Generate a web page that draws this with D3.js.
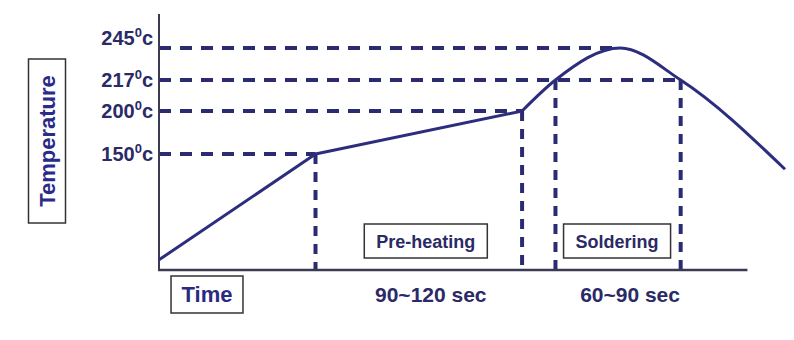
<!DOCTYPE html>
<html>
<head>
<meta charset="utf-8">
<script src="https://cdn.jsdelivr.net/npm/d3@7"></script>
<style>
  html, body { margin: 0; padding: 0; background: #fff; }
  svg { display: block; }
  text { font-family: "Liberation Sans", Arial, sans-serif; font-weight: bold; }
</style>
</head>
<body>
<svg id="chart" width="794" height="340"></svg>
<script>
// ---- data ----
const profileTime = [0, 75, 174, 190, 221, 250, 300];      // seconds (schematic)
const profileTemp = [25, 150, 200, 217, 245, 217, 132];     // °C
const tickTemps   = [150, 200, 217, 245];
const tickGuideTime = [75, 174, 250, 221];                 // where each horizontal guide ends
const dropTimes   = [75, 174, 190, 250];                   // vertical guide lines
const dropTemps   = [150, 200, 217, 217];
const phaseNames  = ["Pre-heating", "Soldering"];
const phaseSpans  = [[75, 174], [190, 250]];
const durationLabels = ["90~120 sec", "60~90 sec"];
const yTitle = "Temperature";
const xTitle = "Time";

// ---- layout ----
const svg = d3.select("#chart");
const navy = "#2b2b72", lineCol = "#2d2d7e", textCol = "#2a2a66", axisCol = "#3a3a52";

const x = d3.scaleLinear().domain([0, 300]).range([159, 785]);
const xAxisEnd = 282;
// schematic (non-uniform) temperature axis
const y = d3.scaleLinear().domain([13, 150, 200, 217, 245, 275]).range([270, 154, 111, 80, 48, 14]);
const yBase = 13, yTop = 275;

// guides
const hGuides = tickTemps.map((t, i) => ({t, end: tickGuideTime[i]}));
svg.append("g").selectAll("line").data(hGuides).join("line")
  .attr("x1", x(0)).attr("x2", d => x(d.end))
  .attr("y1", d => y(d.t)).attr("y2", d => y(d.t))
  .attr("stroke", navy).attr("stroke-width", 4).attr("stroke-dasharray", "12,9");

svg.append("g").selectAll("line").data(dropTimes.map((t, i) => ({t, temp: dropTemps[i]}))).join("line")
  .attr("x1", d => x(d.t)).attr("x2", d => x(d.t))
  .attr("y1", d => y(d.temp)).attr("y2", y(yBase))
  .attr("stroke", navy).attr("stroke-width", 4).attr("stroke-dasharray", "10,8");

// axes
svg.append("line").attr("x1", x(0)).attr("x2", x(0)).attr("y1", y(yTop)).attr("y2", y(yBase))
  .attr("stroke", axisCol).attr("stroke-width", 2);
svg.append("line").attr("x1", x(0) - 1).attr("x2", x(xAxisEnd)).attr("y1", y(yBase)).attr("y2", y(yBase))
  .attr("stroke", axisCol).attr("stroke-width", 2.5);

// profile curve
const pts = profileTime.map((t, i) => [t, profileTemp[i]]);
const lineLin = d3.line().x(d => x(d[0])).y(d => y(d[1]));
const lineSmooth = d3.line().x(d => x(d[0])).y(d => y(d[1])).curve(d3.curveMonotoneX);
svg.append("path").attr("d", lineLin(pts.slice(0, 3)))
  .attr("fill", "none").attr("stroke", lineCol).attr("stroke-width", 3).attr("stroke-linejoin", "round");
svg.append("path").attr("d", lineSmooth(pts.slice(2)))
  .attr("fill", "none").attr("stroke", lineCol).attr("stroke-width", 3).attr("stroke-linejoin", "round");

// tick labels
const tl = svg.append("g").selectAll("text").data(tickTemps).join("text")
  .attr("x", 153).attr("y", d => y(d) + (d === 245 ? -3 : 7))
  .attr("text-anchor", "end").attr("fill", textCol).attr("font-size", 20);
tl.append("tspan").text(d => d);
tl.append("tspan").attr("font-size", 13).attr("dy", -8).text("0");
tl.append("tspan").attr("dy", 8).text("c");

// y title
const yt = svg.append("g").attr("transform", "translate(47,141) rotate(-90)");
yt.append("text").attr("text-anchor", "middle").attr("dy", "0.36em")
  .attr("font-size", 22).attr("fill", "#2a2a88").text(yTitle);
yt.append("rect").attr("x", -82).attr("y", -18.5).attr("width", 164).attr("height", 37)
  .attr("fill", "none").attr("stroke", "#333").attr("stroke-width", 1.5);

// x title
const xt = svg.append("text").attr("x", 207).attr("y", 302).attr("text-anchor", "middle")
  .attr("font-size", 22).attr("fill", "#2a2a80").text(xTitle);
const xw = xt.node().getComputedTextLength();
svg.append("rect").attr("x", 207 - xw / 2 - 10.5).attr("y", 276).attr("width", xw + 21).attr("height", 37)
  .attr("fill", "none").attr("stroke", "#333").attr("stroke-width", 1.5);

// phase boxes
const phaseOffset = [7, -1];
phaseNames.forEach((name, i) => {
  const cx = (x(phaseSpans[i][0]) + x(phaseSpans[i][1])) / 2 + phaseOffset[i];
  const t = svg.append("text").attr("x", cx).attr("y", 248).attr("text-anchor", "middle")
    .attr("font-size", 18).attr("fill", textCol).text(name);
  const w = t.node().getComputedTextLength();
  svg.append("rect").attr("x", cx - w / 2 - 12).attr("y", 224).attr("width", w + 24).attr("height", 34)
    .attr("fill", "none").attr("stroke", "#333").attr("stroke-width", 1.5);
});

// duration labels
const durOffset = [12, 12];
durationLabels.forEach((lab, i) => {
  const cx = (x(phaseSpans[i][0]) + x(phaseSpans[i][1])) / 2 + durOffset[i];
  svg.append("text").attr("x", cx).attr("y", 302).attr("text-anchor", "middle")
    .attr("font-size", 21).attr("fill", textCol).text(lab);
});
</script>
</body>
</html>
